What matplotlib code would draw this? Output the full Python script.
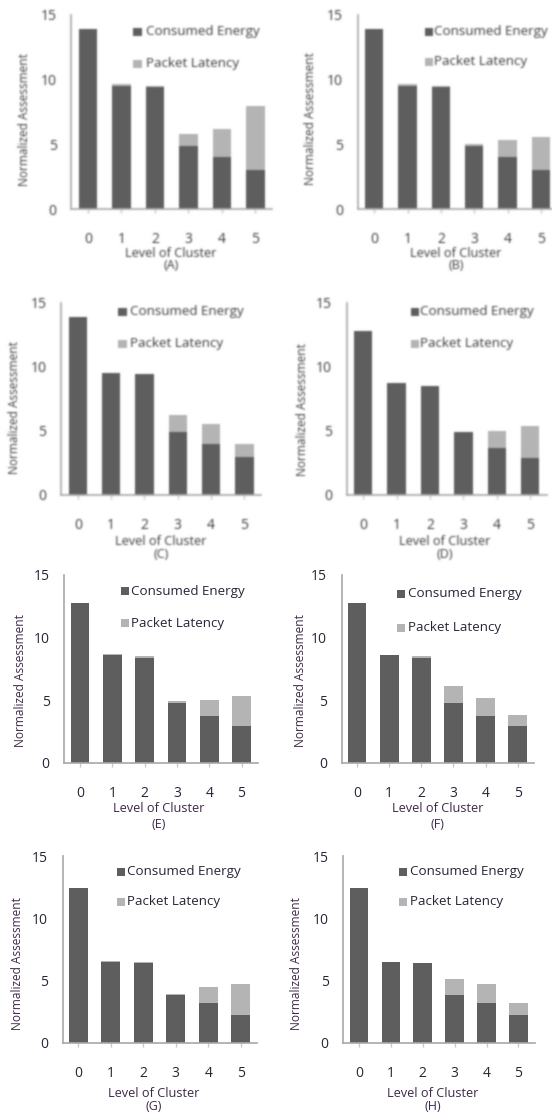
import numpy as np
import matplotlib
matplotlib.use("Agg")
import matplotlib.pyplot as plt
from matplotlib.patches import Rectangle

# ---- data -------------------------------------------------------------
levels = [0, 1, 2, 3, 4, 5]
series_names = ["Consumed Energy", "Packet Latency"]
panel_tags = ["(A)", "(B)", "(C)", "(D)", "(E)", "(F)", "(G)", "(H)"]

energy_a = [13.9, 9.55, 9.45, 4.9, 4.0, 3.0]
latency_a = [0.0, 0.12, 0.1, 0.95, 2.2, 5.0]
energy_b = [13.9, 9.55, 9.45, 4.9, 4.0, 3.0]
latency_b = [0.0, 0.1, 0.05, 0.15, 1.35, 2.6]
energy_c = [13.9, 9.5, 9.4, 4.9, 4.0, 3.0]
latency_c = [0.0, 0.0, 0.05, 1.35, 1.5, 1.0]
energy_d = [12.8, 8.7, 8.5, 4.9, 3.7, 2.9]
latency_d = [0.0, 0.0, 0.0, 0.0, 1.3, 2.5]
energy_e = [12.75, 8.6, 8.4, 4.8, 3.7, 2.9]
latency_e = [0.0, 0.1, 0.12, 0.12, 1.3, 2.45]
energy_f = [12.75, 8.6, 8.35, 4.8, 3.7, 2.9]
latency_f = [0.0, 0.0, 0.15, 1.3, 1.5, 0.95]
energy_g = [12.45, 6.45, 6.4, 3.8, 3.2, 2.2]
latency_g = [0.0, 0.15, 0.05, 0.15, 1.3, 2.5]
energy_h = [12.45, 6.45, 6.4, 3.8, 3.2, 2.2]
latency_h = [0.0, 0.0, 0.0, 1.35, 1.5, 1.0]

energy_sets = [energy_a, energy_b, energy_c, energy_d,
               energy_e, energy_f, energy_g, energy_h]
latency_sets = [latency_a, latency_b, latency_c, latency_d,
                latency_e, latency_f, latency_g, latency_h]

# ---- styling ----------------------------------------------------------
W, H = 552, 1117
DPI = 100
PT = 72.0 / DPI          # points per pixel

plt.rcParams["font.family"] = ["Open Sans", "DejaVu Sans"]

dark = "#5e5e5e"
light = "#b4b4b4"
spine_col = "#a8a8a8"

# panel frames in pixels: left, top, width, bottom, x-limits, bar width
frames = [
    (71.2, 15.0, 201.0, 209.3, (-0.5, 5.5), 0.55),
    (357.6, 15.0, 200.0, 209.3, (-0.5, 5.5), 0.55),
    (61.1, 302.7, 200.0, 495.0, (-0.5, 5.5), 0.55),
    (346.5, 302.7, 200.4, 495.0, (-0.5, 5.5), 0.55),
    (64.3, 575.0, 194.0, 762.7, (-0.49, 5.52), 0.58),
    (341.7, 575.0, 192.3, 762.7, (-0.48, 5.51), 0.58),
    (62.7, 856.0, 194.6, 1042.7, (-0.48, 5.51), 0.58),
    (343.3, 856.0, 192.0, 1042.7, (-0.49, 5.53), 0.58),
]
# legend: square left x, first row y, second row y, text x, square size
legend_pos = [
    (133, 32, 64, 145.7, 8.5),
    (425, 32, 62, 433.5, 8.0),
    (118, 312, 344, 130, 8.5),
    (411, 312, 344, 419.5, 8.0),
    (121, 591, 623, 131, 7.5),
    (397, 594, 628, 408, 7.5),
    (117, 872, 902, 127, 7.5),
    (399, 872, 902, 410, 7.5),
]
# axis-title centres in pixels: y-label (x, y), x-label (x, y), tag y
title_pos = [
    ((25, 120), (171, 253), 265),
    ((311, 119), (456, 253), 265),
    ((14, 408), (161, 541.7), 555),
    ((302, 410), (444.8, 541.7), 555),
    ((20.7, 681), (158.3, 809), 825),
    ((301, 681), (437.7, 809), 825),
    ((17.3, 964), (154, 1093.3), 1106.7),
    ((296.7, 964), (432.7, 1093.3), 1106.7),
]

fig = plt.figure(figsize=(W / DPI, H / DPI), dpi=DPI)
fig.patch.set_facecolor("white")


def fx(x):
    return x / W


def fy(y):
    return 1.0 - y / H


for i in range(8):
    left, top, width, bottom, xlim, bw = frames[i]
    ax = fig.add_axes([fx(left), fy(bottom), width / W, (bottom - top) / H])
    top_row = i < 4
    txt_col = "#3c3c3c" if top_row else "#262638"
    lab_col = "#3c3c3c" if top_row else "#3e2a48"

    energy = energy_sets[i]
    latency = latency_sets[i]
    ax.bar(levels, energy, width=bw, color=dark, edgecolor="none",
           label=series_names[0], zorder=2)
    ax.bar(levels, latency, width=bw, bottom=energy, color=light,
           edgecolor="none", label=series_names[1], zorder=2)

    ax.set_xlim(*xlim)
    ax.set_ylim(0, 15)
    ax.set_xticks(levels)
    ax.set_xticklabels([str(v) for v in levels])
    ax.set_yticks([0, 5, 10, 15])

    for s in ("top", "right"):
        ax.spines[s].set_visible(False)
    for s in ("left", "bottom"):
        ax.spines[s].set_color(spine_col)
        ax.spines[s].set_linewidth(1.2)
        ax.spines[s].set_zorder(3)

    ax.tick_params(axis="x", direction="out", length=4 * PT, width=1.0,
                   color="#c8c8c8", pad=(23.0 - 4) * PT,
                   labelsize=10, labelcolor=txt_col)
    ax.tick_params(axis="y", length=0, pad=10.5, labelsize=10,
                   labelcolor=txt_col)

    # axis titles
    (ylx, yly), (xlx, xly), tag_y = title_pos[i]
    ax.set_ylabel("Normalized Assessment", fontsize=8.6, color=lab_col)
    ax.yaxis.set_label_coords((ylx - left) / width,
                              (bottom - yly) / (bottom - top))
    ax.yaxis.label.set_va("center")
    ax.set_xlabel("Level of Cluster", fontsize=9.2, color=lab_col)
    ax.xaxis.set_label_coords((xlx - left) / width,
                              (bottom - xly) / (bottom - top))
    ax.xaxis.label.set_va("center")
    ax.text((xlx - left) / width, (bottom - tag_y) / (bottom - top),
            panel_tags[i], transform=ax.transAxes, ha="center", va="center",
            fontsize=9, color=lab_col, clip_on=False)

    # legend
    sq_x, r1, r2, tx, sq = legend_pos[i]
    for name, col, ry in zip(series_names, (dark, light), (r1, r2)):
        fig.patches.append(Rectangle((fx(sq_x), fy(ry + sq / 2)),
                                     sq / W, sq / H, transform=fig.transFigure,
                                     facecolor=col, edgecolor="none"))
        fig.text(fx(tx), fy(ry), name, ha="left", va="center",
                 fontsize=9.6, color=txt_col)

# ---- render, soften the upper two rows (scanned print), save ----------
fig.canvas.draw()
img = np.asarray(fig.canvas.buffer_rgba()).astype(float)[:, :, :3] / 255.0

sigma = 0.9
rad = 3
k = np.exp(-0.5 * (np.arange(-rad, rad + 1) / sigma) ** 2)
k /= k.sum()


def blur(a):
    h, w = a.shape[:2]
    p = np.pad(a, ((rad, rad), (rad, rad), (0, 0)), mode="edge")
    tmp = sum(k[j] * p[:, j:j + w, :] for j in range(2 * rad + 1))
    return sum(k[j] * tmp[j:j + h, :, :] for j in range(2 * rad + 1))


upper = 565
img[:upper] = blur(img[:upper])
plt.imsave("out.png", np.clip(img, 0, 1))
